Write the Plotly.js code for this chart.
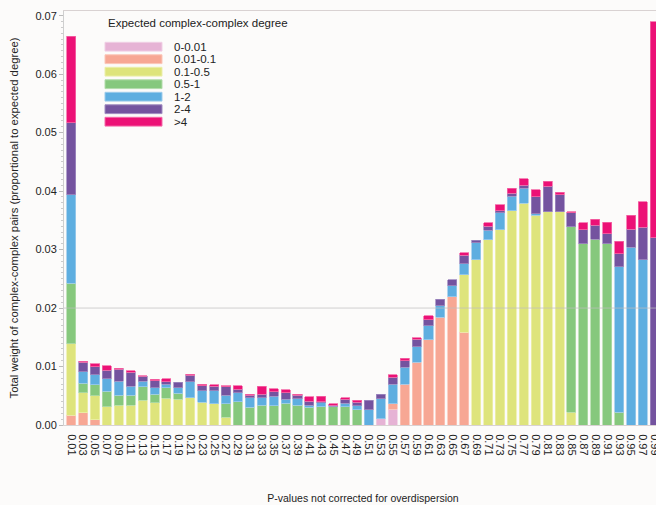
<!DOCTYPE html>
<html>
<head>
<meta charset="utf-8">
<script src="https://cdn.plot.ly/plotly-3.0.1.min.js"></script>
<style>
html,body{margin:0;padding:0;overflow:hidden;background:#fcfbfa;}
#chart{width:670px;height:505px;}
</style>
</head>
<body>
<div id="chart"></div>
<script>
// Categories (P-value bins)
const categories = ["0.01","0.03","0.05","0.07","0.09","0.11","0.13","0.15","0.17","0.19",
"0.21","0.23","0.25","0.27","0.29","0.31","0.33","0.35","0.37","0.39",
"0.41","0.43","0.45","0.47","0.49","0.51","0.53","0.55","0.57","0.59",
"0.61","0.63","0.65","0.67","0.69","0.71","0.73","0.75","0.77","0.79",
"0.81","0.83","0.85","0.87","0.89","0.91","0.93","0.95","0.97","0.99"];

const seriesNames = ["0-0.01","0.01-0.1","0.1-0.5","0.5-1","1-2","2-4",">4"];
const seriesColors = ["#e6b3d5","#f7a794","#dee47c","#86c87d","#5eaee0","#74539f","#ec1176"];
const seriesEdges  = ["#f0cfe4","#fbc6b8","#ecefaa","#b2dcaa","#9ccbeb","#a08cc0","#f46aa8"];

const deg_0_001 = [0,0,0,0,0,0,0,0,0,0, 0,0,0,0,0,0,0,0,0,0, 0,0,0,0,0,0,0.0011,0.0027,0,0, 0,0,0,0,0,0,0,0,0,0, 0,0,0,0,0,0,0,0,0,0];
const deg_001_01 = [0.0017,0.0021,0.0009,0,0,0,0,0,0,0, 0,0,0,0,0,0,0,0,0,0, 0,0,0,0,0,0,0,0.0009,0.0070,0.0107, 0.0146,0.0184,0.0219,0.0159,0,0,0,0,0,0, 0,0,0,0,0,0,0,0,0,0];
const deg_01_05 = [0.0122,0.0034,0.0041,0.0031,0.0034,0.0034,0.0042,0.0038,0.0046,0.0044, 0.0047,0.0039,0.0036,0.0013,0,0,0,0,0,0, 0,0,0,0,0,0,0,0,0,0, 0,0,0,0.0098,0.0283,0.0317,0.0334,0.0366,0.0379,0.0359, 0.0365,0.0365,0.0022,0,0,0,0,0,0,0];
const deg_05_1 = [0.0103,0.0016,0.0019,0.0027,0.0017,0.0017,0.0023,0.0015,0.0018,0.0010, 0,0,0,0.0023,0.0040,0.0030,0.0034,0.0033,0.0037,0.0034, 0.0030,0.0031,0.0031,0.0031,0.0026,0,0,0,0,0, 0,0,0,0,0,0,0,0,0,0, 0,0,0.0317,0.0310,0.0318,0.0310,0.0022,0,0,0];
const deg_1_2 = [0.0152,0.0020,0.0017,0.0021,0.0024,0.0015,0.0010,0.0011,0.0006,0.0010, 0.0027,0.0020,0.0023,0.0015,0.0015,0.0017,0.0013,0.0016,0.0007,0.0011, 0.0004,0.0007,0.0001,0.0006,0.0007,0.0026,0.0034,0.0034,0.0029,0.0027, 0.0024,0.0020,0.0019,0.0019,0.0029,0.0016,0.0029,0.0025,0.0026,0.0002, 0,0,0,0,0,0,0.0249,0.0304,0.0283,0];
const deg_2_4 = [0.0123,0.0016,0.0014,0.0015,0.0020,0.0024,0.0008,0.0012,0.0004,0.0009, 0.0011,0.0008,0.0007,0.0014,0.0006,0.0004,0.0006,0.0008,0.0011,0.0006, 0.0007,0.0002,0.0002,0.0007,0.0006,0.0016,0.0008,0.0012,0.0011,0.0013, 0.0010,0.0011,0.0010,0.0014,0.0004,0.0007,0.0003,0.0005,0.0005,0.0029, 0.0043,0.0029,0.0024,0.0024,0.0024,0.0017,0.0022,0.0031,0.0055,0.0320];
const deg_gt4 = [0.0148,0.0002,0.0005,0.0007,0.0002,0.0003,0.0001,0.0002,0.0005,0, 0.0002,0.0003,0.0003,0.0002,0.0006,0.0002,0.0013,0.0005,0.0005,0.0002, 0.0007,0.0009,0.0002,0.0003,0.0003,0,0,0.0004,0.0004,0.0002, 0.0007,0,0,0.0005,0,0.0006,0.0011,0.0009,0.0011,0.0012, 0.0009,0.0004,0.0002,0.0012,0.0010,0.0020,0.0021,0.0024,0.0044,0.0370];

const seriesValues = [deg_0_001, deg_001_01, deg_01_05, deg_05_1, deg_1_2, deg_2_4, deg_gt4];

const W = 670, H = 505;
const M = {l: 64, r: 8, t: 11, b: 80};
const plotW = W - M.l - M.r, plotH = H - M.t - M.b;
const FONT = 'Liberation Sans, Arial, sans-serif';

const traces = seriesValues.map((vals, k) => ({
  type: 'bar',
  name: seriesNames[k],
  x: categories.map((c, i) => i),
  y: vals.map(v => v === 0 ? null : v),
  marker: {color: seriesColors[k], line: {color: seriesEdges[k], width: 0.8}},
  showlegend: false,
  hoverinfo: 'x+y+name'
}));

// Custom legend with wide swatches (paper coordinates)
const px2x = p => (p - M.l) / plotW;
const py2y = p => (H - M.b - p) / plotH;
const shapes = [];
const annotations = [];
annotations.push({
  xref: 'paper', yref: 'paper', x: px2x(106), y: py2y(23), xanchor: 'left', yanchor: 'middle',
  text: 'Expected complex-complex degree', showarrow: false,
  font: {family: FONT, size: 11.5, color: '#222'}
});
seriesNames.forEach((nm, k) => {
  const cy = 46.7 + 12.5 * k;
  shapes.push({
    type: 'rect', xref: 'paper', yref: 'paper',
    x0: px2x(105), x1: px2x(162), y0: py2y(cy + 4.4), y1: py2y(cy - 4.4),
    fillcolor: seriesColors[k], line: {color: seriesEdges[k], width: 1}
  });
  annotations.push({
    xref: 'paper', yref: 'paper', x: px2x(171.5), y: py2y(cy), xanchor: 'left', yanchor: 'middle',
    text: nm.replace('>', '&gt;'), showarrow: false,
    font: {family: FONT, size: 11.5, color: '#222'}
  });
});
// reference line at 0.02
shapes.push({type: 'line', xref: 'paper', yref: 'y', x0: 0, x1: 1, y0: 0.02, y1: 0.02,
  line: {color: 'rgba(190,190,190,0.7)', width: 1}, layer: 'above'});

const layout = {
  width: W, height: H,
  margin: M,
  paper_bgcolor: '#fcfbfa',
  plot_bgcolor: '#fcfbfa',
  barmode: 'stack',
  bargap: 0.24,
  font: {family: FONT, size: 11, color: '#222'},
  xaxis: {
    type: 'linear',
    range: [-0.6, 49.6],
    tickmode: 'array',
    tickvals: categories.map((c, i) => i),
    ticktext: categories,
    tickangle: 90,
    ticks: '',
    ticklabelstandoff: 6,
    showgrid: false,
    zeroline: false,
    showline: true, mirror: true,
    linecolor: '#d9d2d2', linewidth: 1,
    tickfont: {size: 11, color: '#222'},
    title: {text: 'P-values not corrected for overdispersion', font: {size: 10.5, color: '#222'}, standoff: 40}
  },
  yaxis: {
    range: [0, 0.0708],
    dtick: 0.01,
    tickformat: '.2f',
    ticks: 'outside', ticklen: 4, tickcolor: '#bbb',
    minor: {dtick: 0.001, ticks: 'outside', ticklen: 2.5, tickcolor: '#ccc', showgrid: false},
    showgrid: false,
    zeroline: false,
    showline: true, linecolor: '#cfcfcf', linewidth: 1,
    tickfont: {size: 11, color: '#222'},
    title: {text: 'Total weight of complex-complex pairs (proportional to expected degree)', font: {size: 11.3, color: '#222'}, standoff: 14}
  },
  shapes: shapes,
  annotations: annotations
};

Plotly.newPlot('chart', traces, layout, {displayModeBar: false, staticPlot: true});
</script>
</body>
</html>
